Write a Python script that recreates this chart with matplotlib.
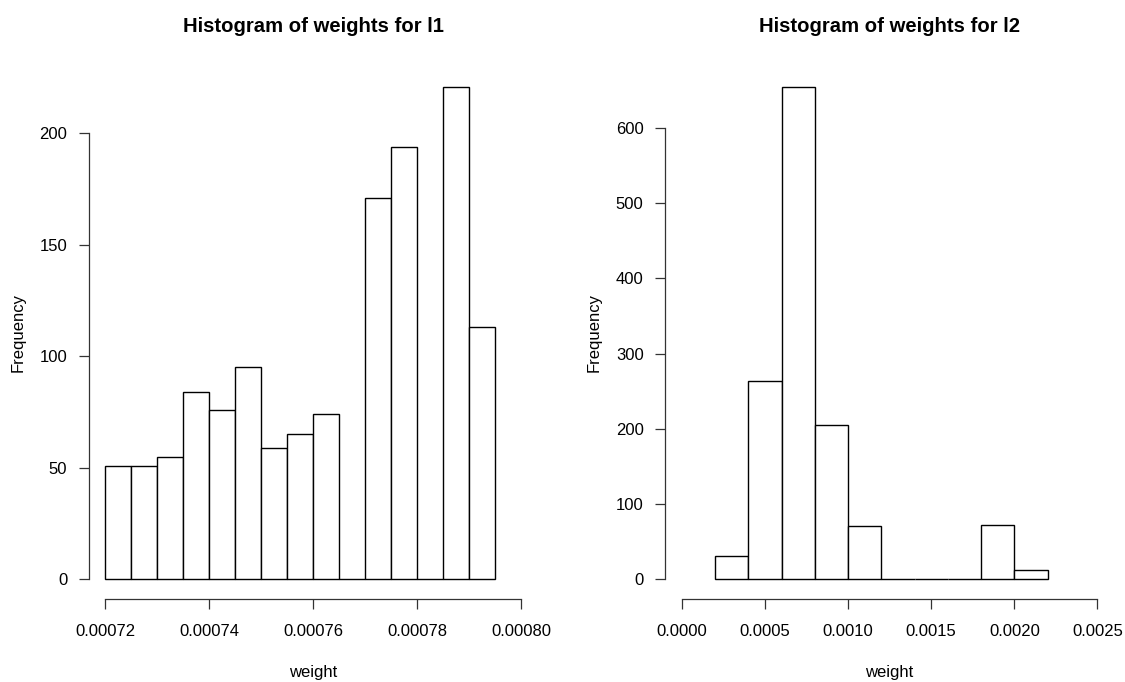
import matplotlib
matplotlib.use("Agg")
import matplotlib.pyplot as plt
import numpy as np

plt.rcParams['font.family'] = ['Liberation Sans', 'DejaVu Sans']

# ---- data: l1 ----
l1_bin_left = [0.000720, 0.000725, 0.000730, 0.000735, 0.000740, 0.000745,
               0.000750, 0.000755, 0.000760, 0.000765, 0.000770, 0.000775,
               0.000780, 0.000785, 0.000790]
l1_bin_width = 0.000005
l1_counts = [51, 51, 55, 84, 76, 95, 59, 65, 74, 0, 171, 194, 0, 221, 113]
l1_xticks = [0.00072, 0.00074, 0.00076, 0.00078, 0.00080]
l1_xticklabels = ["0.00072", "0.00074", "0.00076", "0.00078", "0.00080"]
l1_yticks = [0, 50, 100, 150, 200]
l1_xlim = (0.00072, 0.00080)

# ---- data: l2 ----
l2_bin_left = [0.0002, 0.0004, 0.0006, 0.0008, 0.0010, 0.0012, 0.0014,
               0.0016, 0.0018, 0.0020]
l2_bin_width = 0.0002
l2_counts = [31, 263, 655, 205, 71, 0, 0, 0, 72, 12]
l2_xticks = [0.0000, 0.0005, 0.0010, 0.0015, 0.0020, 0.0025]
l2_xticklabels = ["0.0000", "0.0005", "0.0010", "0.0015", "0.0020", "0.0025"]
l2_yticks = [0, 100, 200, 300, 400, 500, 600]
l2_xlim = (0.0, 0.0025)

titles = ["Histogram of weights for l1", "Histogram of weights for l2"]

W, H = 1125, 682
fig = plt.figure(figsize=(W / 100, H / 100), dpi=100)

ax_bottom = (H - 599) / H
ax_height = (599 - 66.8) / H
ax_width = 449 / W
ax1 = fig.add_axes([88.7 / W, ax_bottom, ax_width, ax_height])
ax2 = fig.add_axes([665.1 / W, ax_bottom, ax_width, ax_height])


def draw(ax, lefts, width, counts, xticks, xlabels, yticks, xlim, title):
    ax.bar(lefts, counts, width=width, align='edge', facecolor='white',
           edgecolor='black', linewidth=1.0)
    span = xlim[1] - xlim[0]
    ax.set_xlim(xlim[0] - 0.04 * span, xlim[1] + 0.04 * span)
    ymax = max(counts)
    ax.set_ylim(-0.04 * ymax, 1.04 * ymax)
    ax.set_xticks(xticks)
    ax.set_xticklabels(xlabels)
    ax.set_yticks(yticks)
    ax.set_yticklabels([str(v) for v in yticks])
    for s in ['top', 'right']:
        ax.spines[s].set_visible(False)
    ax.spines['left'].set_bounds(yticks[0], yticks[-1])
    ax.spines['bottom'].set_bounds(xticks[0], xticks[-1])
    for s in ['left', 'bottom']:
        ax.spines[s].set_linewidth(0.9)
        ax.spines[s].set_color('#333333')
    ax.tick_params(axis='both', direction='out', length=7.5, width=0.9,
                   color='#333333', labelsize=12, labelcolor='black')
    ax.tick_params(axis='y', pad=8)
    ax.tick_params(axis='x', pad=10.5)

    # title, x label and y label positioned relative to the plot region
    bb = ax.get_position()
    xc = (bb.x0 + bb.x1) / 2
    fig.text(xc, 1 - 27 / H, title, ha='center', va='center',
             fontsize=14.6, fontweight='bold')
    fig.text(xc, 1 - 673 / H, "weight", ha='center', va='center',
             fontsize=12)
    fig.text(bb.x0 - 70.7 / W, 1 - 333 / H, "Frequency", ha='center',
             va='center', rotation=90, fontsize=12)


draw(ax1, l1_bin_left, l1_bin_width, l1_counts, l1_xticks, l1_xticklabels,
     l1_yticks, l1_xlim, titles[0])
draw(ax2, l2_bin_left, l2_bin_width, l2_counts, l2_xticks, l2_xticklabels,
     l2_yticks, l2_xlim, titles[1])

fig.savefig("out.png", dpi=100, facecolor='white')
